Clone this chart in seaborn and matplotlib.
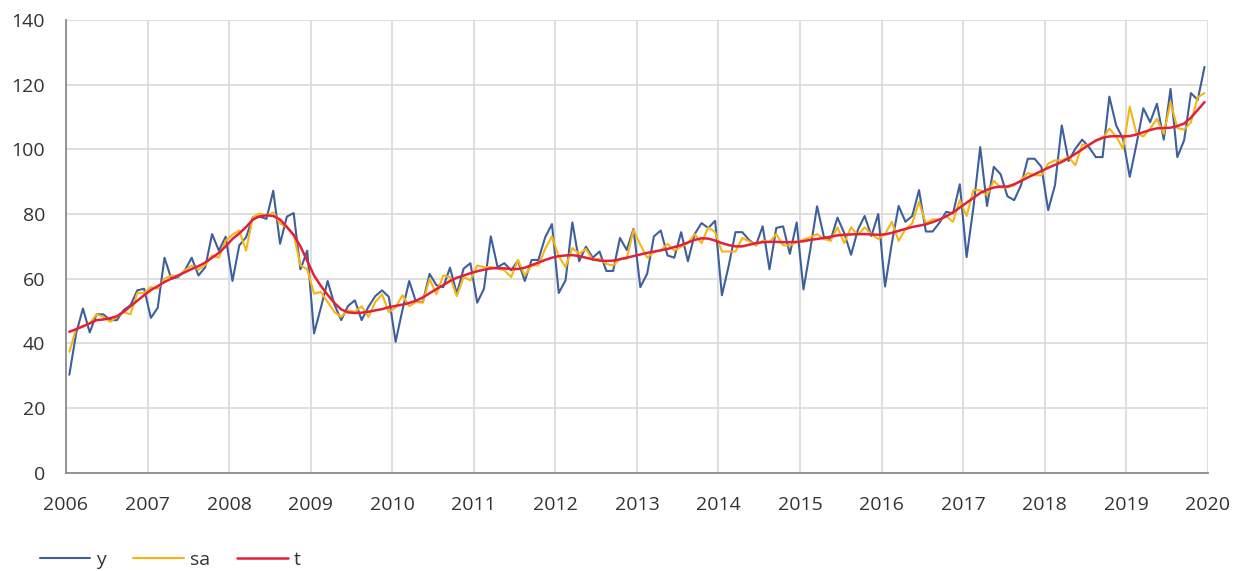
import numpy as np
import pandas as pd
import matplotlib
matplotlib.use("Agg")
import matplotlib.pyplot as plt
import seaborn as sns

# monthly values, Jan 2006 .. Dec 2019
y = [30.3, 43.1, 50.8, 43.4, 49.0, 49.0, 47.2, 47.2, 50.3, 51.8, 56.4, 56.9,
     47.9, 51.0, 66.5, 60.0, 60.5, 62.6, 66.5, 61.0, 63.6, 73.8, 68.7, 73.0,
     59.3, 70.3, 72.8, 79.0, 79.2, 78.5, 87.2, 70.8, 79.2, 80.3, 62.9, 68.7,
     43.1, 51.0, 59.3, 52.0, 47.2, 51.6, 53.3, 47.2, 51.3, 54.6, 56.4, 54.4,
     40.5, 50.3, 59.3, 52.8, 52.8, 61.5, 58.0, 57.4, 63.4, 55.4, 63.1, 64.8,
     52.6, 56.9, 73.1, 63.6, 64.8, 62.6, 65.6, 59.3, 65.8, 65.8, 72.8, 76.9,
     55.6, 59.5, 77.4, 65.4, 69.9, 66.5, 68.4, 62.4, 62.4, 72.6, 68.9, 75.4,
     57.4, 61.5, 73.1, 74.9, 67.2, 66.5, 74.4, 65.4, 73.8, 77.2, 75.7, 77.9,
     54.9, 64.0, 74.4, 74.4, 72.0, 70.3, 76.2, 62.9, 75.7, 76.2, 67.7, 77.4,
     56.7, 69.0, 82.4, 73.0, 72.0, 78.9, 74.1, 67.4, 75.1, 79.4, 73.2, 80.0,
     57.6, 71.0, 82.5, 77.6, 79.4, 87.4, 74.6, 74.6, 77.3, 80.7, 80.2, 89.2,
     66.7, 82.0, 100.7, 82.5, 94.6, 92.3, 85.5, 84.3, 88.9, 97.1, 97.1, 94.6,
     81.2, 88.9, 107.4, 96.4, 100.2, 103.0, 100.7, 97.6, 97.6, 116.3, 107.4, 103.3,
     91.5, 101.7, 112.7, 108.4, 114.1, 103.0, 118.7, 97.6, 102.8, 117.4, 115.3, 125.5]

sa = [37.4, 44.6, 45.1, 46.2, 49.0, 48.2, 46.7, 48.2, 49.7, 49.0, 55.6, 55.6,
      57.4, 56.9, 60.0, 61.0, 60.7, 62.6, 64.1, 62.8, 64.3, 67.2, 66.5, 71.8,
      73.6, 74.9, 68.7, 79.0, 80.2, 79.5, 80.5, 77.1, 75.9, 73.8, 64.1, 62.9,
      55.4, 55.9, 52.8, 49.7, 48.2, 50.3, 49.7, 51.5, 48.2, 52.8, 55.2, 49.7,
      51.1, 54.9, 51.5, 52.8, 52.6, 60.0, 55.2, 61.0, 60.5, 54.6, 60.5, 59.5,
      64.1, 63.6, 63.6, 63.1, 62.6, 60.5, 65.8, 61.0, 64.1, 64.1, 69.2, 73.1,
      66.9, 63.6, 69.5, 67.7, 69.2, 65.8, 66.2, 64.6, 64.1, 66.2, 66.2, 75.1,
      70.5, 66.5, 68.2, 68.7, 70.8, 68.7, 69.9, 71.0, 73.8, 71.0, 75.9, 74.4,
      68.4, 68.4, 68.4, 72.6, 71.6, 70.3, 71.8, 71.3, 73.8, 70.3, 70.3, 71.3,
      72.1, 72.8, 73.8, 72.3, 71.7, 75.9, 71.0, 75.9, 73.5, 75.9, 73.7, 72.3,
      73.8, 77.6, 71.7, 75.3, 77.1, 83.8, 77.1, 78.4, 78.2, 79.4, 77.6, 84.3,
      79.4, 87.4, 87.4, 85.8, 90.3, 88.2, 88.2, 88.9, 90.5, 92.7, 92.0, 92.0,
      95.6, 96.6, 96.6, 97.6, 95.1, 101.5, 101.2, 102.8, 103.3, 106.4, 104.0, 100.2,
      113.2, 104.8, 104.0, 106.4, 109.4, 104.8, 114.6, 106.6, 106.1, 108.4, 116.1, 117.4]

t = [43.6, 44.4, 45.3, 46.2, 47.2, 47.4, 47.8, 48.4, 49.8, 51.5, 53.2, 54.9,
     56.5, 57.7, 59.0, 60.0, 61.0, 62.0, 63.0, 63.9, 65.0, 66.5, 68.0, 70.0,
     72.3, 74.0, 76.0, 78.3, 79.3, 79.6, 79.4, 78.3, 76.0, 73.5, 70.0, 65.5,
     61.0, 57.8, 55.0, 52.5, 50.5, 49.6, 49.4, 49.5, 49.8, 50.2, 50.6, 51.2,
     51.6, 52.0, 52.5, 53.2, 54.2, 55.5, 56.8, 58.0, 59.3, 60.3, 61.0, 61.7,
     62.3, 62.8, 63.2, 63.3, 63.2, 63.0, 63.0, 63.4, 64.2, 65.0, 65.8, 66.5,
     67.0, 67.2, 67.3, 67.0, 66.5, 66.0, 65.6, 65.5, 65.6, 66.0, 66.5, 67.0,
     67.5, 68.0, 68.4, 68.8, 69.2, 69.8, 70.4, 71.2, 72.0, 72.5, 72.4, 71.8,
     71.0, 70.4, 70.0, 70.0, 70.5, 71.0, 71.3, 71.4, 71.4, 71.3, 71.3, 71.4,
     71.6, 72.0, 72.3, 72.6, 73.0, 73.4, 73.6, 73.7, 73.8, 73.8, 73.7, 73.6,
     73.7, 74.2, 74.8, 75.4, 76.0, 76.4, 76.8, 77.5, 78.3, 79.3, 80.5, 82.0,
     83.5, 85.0, 86.5, 87.5, 88.2, 88.5, 88.5, 89.2, 90.2, 91.3, 92.3, 93.3,
     94.3, 95.2, 96.1, 97.3, 98.6, 100.0, 101.4, 102.7, 103.6, 104.0, 104.1, 104.0,
     104.1, 104.6, 105.3, 106.0, 106.5, 106.6, 106.7, 107.2, 108.0, 109.8, 112.2, 114.6]

years = list(range(2006, 2021))
y_ticks = [0, 20, 40, 60, 80, 100, 120, 140]

# each month sits in the middle of its slot, like a category axis
x = 2006 + (np.arange(len(y)) + 0.5) / 12
df = pd.DataFrame({"x": x, "y": y, "sa": sa, "t": t})

sns.set_style("white")
plt.rcParams["font.family"] = ["Open Sans", "DejaVu Sans"]

fig = plt.figure(figsize=(12.44, 5.71), dpi=100)
ax = fig.add_axes([0.053, 0.172, 0.918, 0.793])

sns.lineplot(data=df, x="x", y="y", ax=ax, color="#3d5f9c", linewidth=1.5, label="y")
sns.lineplot(data=df, x="x", y="sa", ax=ax, color="#f7b512", linewidth=1.5, label="sa")
sns.lineplot(data=df, x="x", y="t", ax=ax, color="#e3203b", linewidth=1.8, label="t")

ax.set_xlim(2006, 2020)
ax.set_ylim(0, 140)
ax.set_xticks(years)
ax.set_xticklabels([str(v) for v in years])
ax.set_yticks(y_ticks)
ax.set_xlabel("")
ax.set_ylabel("")
ax.grid(True, color="#d9d9d9", linewidth=1.2)
ax.set_axisbelow(True)
ax.tick_params(length=0, labelsize=14, colors="#333333")
ax.tick_params(axis="x", pad=17)
ax.tick_params(axis="y", pad=15)
for s in ["top", "right"]:
    ax.spines[s].set_visible(False)
for s in ["left", "bottom"]:
    ax.spines[s].set_color("#8c8c8c")
    ax.spines[s].set_linewidth(1.3)

ax.legend(loc="center left", bbox_to_anchor=(0.018, 0.019), bbox_transform=fig.transFigure,
          ncol=3, frameon=False, fontsize=14, handlelength=2.6, columnspacing=1.4,
          handletextpad=0.3, labelcolor="#333333")

fig.savefig("out.png", dpi=100)
